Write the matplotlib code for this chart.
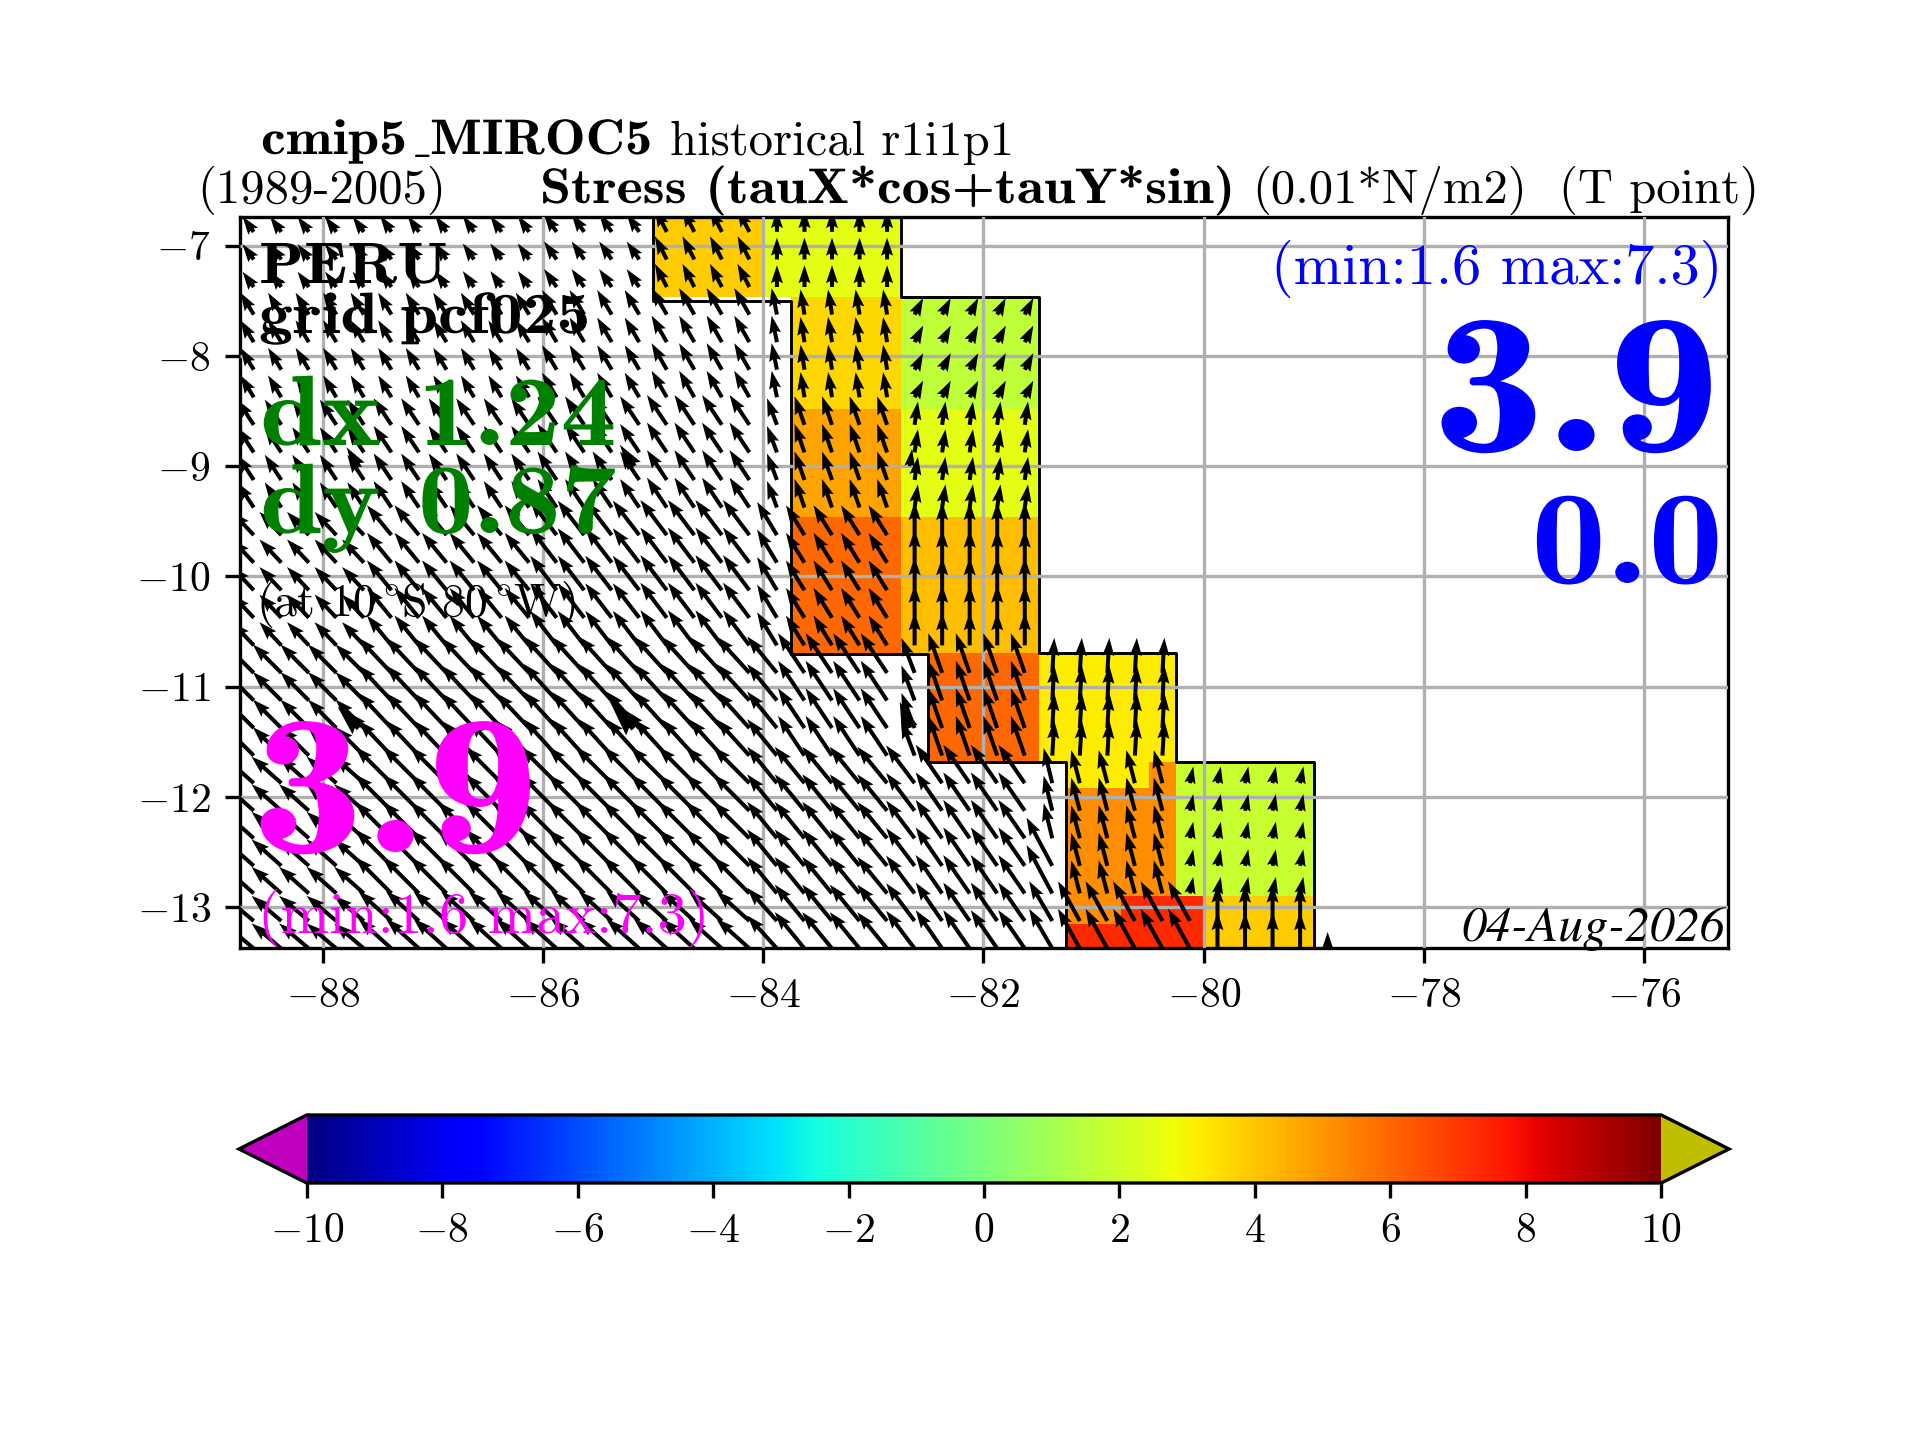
import warnings
import numpy as np
import matplotlib
matplotlib.use("Agg")
import matplotlib.pyplot as plt
from matplotlib.patheffects import AbstractPathEffect
from matplotlib.transforms import Affine2D

warnings.filterwarnings("ignore")
plt.rcParams['mathtext.fontset'] = 'cm'
plt.rcParams['font.family'] = ['cmr10', 'DejaVu Sans']
plt.rcParams['axes.formatter.use_mathtext'] = True
plt.rcParams['axes.unicode_minus'] = True

# colour cells: edges and stress values (0.01 N/m2), nan is no data
cell_lon = [-85, -84, -83.75, -82.75, -82.5, -81.5, -81.25, -80.75, -80.5, -80.25, -80, -79]
cell_lat = [-6.7, -7.47, -8.48, -9.46, -10.69, -11.68, -11.92, -12.90, -13.15, -13.4]
n = np.nan
stress = [
    [3.9, 2.5, 2.5, n, n, n, n, n, n, n, n],
    [n, n, 3.6, 1.6, 1.6, n, n, n, n, n, n],
    [n, n, 4.7, 2.5, 2.5, n, n, n, n, n, n],
    [n, n, 6.0, 4.2, 4.2, n, n, n, n, n, n],
    [n, n, n, n, 6.0, 3.2, 3.2, 3.2, 3.2, n, n],
    [n, n, n, n, n, n, 3.2, 3.2, 5.2, 1.8, 1.8],
    [n, n, n, n, n, n, 5.2, 5.2, 5.2, 1.8, 1.8],
    [n, n, n, n, n, n, 5.2, 7.3, 7.3, 7.3, 3.9],
    [n, n, n, n, n, n, 7.3, 7.3, 7.3, 7.3, 3.9],
]

# arrow field blocks
block_lon = [-89, -87.5, -86, -85, -84, -83.75, -82.75, -82.5, -81.5, -81.25, -80.25, -80, -79, -78.75]
block_lat = [-6.5, -7.47, -8.48, -9.46, -10.69, -11.68, -12.5, -12.9, -13.5]
taux = [
    [-1.7, -1.7, -1.9, -1.8, 0.0, 0.0, n, n, n, n, n, n, n],
    [-2.0, -2.0, -2.2, -2.3, -0.8, -0.6, 1.3, 1.3, n, n, n, n, n],
    [-2.5, -2.7, -2.9, -3.0, -1.5, -1.5, 0.5, 0.5, n, n, n, n, n],
    [-3.3, -3.7, -4.0, -4.0, -3.0, -2.8, 0.0, 0.0, n, n, n, n, n],
    [-4.3, -5.0, -5.0, -5.0, -4.5, -4.0, -2.0, -2.1, 0.3, 0.3, n, n, n],
    [-4.5, -5.5, -5.5, -5.5, -4.5, -4.5, -4.3, -4.0, -1.3, -1.3, 0.5, 0.5, n],
    [-4.5, -5.5, -5.5, -5.5, -4.5, -4.5, -4.3, -4.0, -3.9, -1.3, 0.5, 0.5, n],
    [-4.5, -5.0, -5.0, -5.0, -4.5, -4.5, -4.3, -4.0, -3.5, -3.3, -3.3, 0.0, 0.0],
]
tauy = [
    [2.3, 2.4, 2.7, 3.5, 3.3, 3.3, n, n, n, n, n, n, n],
    [3.3, 3.3, 3.7, 4.0, 4.0, 3.8, 2.5, 2.5, n, n, n, n, n],
    [3.8, 4.0, 4.3, 4.5, 4.0, 4.3, 3.5, 3.5, n, n, n, n, n],
    [3.5, 4.5, 5.2, 5.3, 5.0, 4.5, 5.0, 5.0, n, n, n, n, n],
    [4.3, 5.3, 5.5, 5.5, 5.5, 6.0, 5.3, 6.0, 5.3, 5.3, n, n, n],
    [4.0, 5.5, 5.5, 5.5, 5.5, 5.5, 5.7, 5.8, 5.3, 5.0, 2.5, 2.5, n],
    [4.0, 5.5, 5.5, 5.5, 5.5, 5.5, 5.7, 5.8, 7.3, 5.0, 2.5, 2.5, n],
    [3.8, 4.5, 4.5, 4.5, 5.0, 5.5, 5.7, 5.8, 6.0, 6.0, 6.0, 5.5, 2.5],
]

# the coarser, heavier arrows
big_lon = [-87.67, -85.17, -82.67]
big_lat = [-9.0, -11.375]

coast1_lon = [-85, -85, -83.75, -83.75, -82.5, -82.5, -81.25, -81.25]
coast1_lat = [-6.7, -7.5, -7.5, -10.7, -10.7, -11.68, -11.68, -13.4]
coast2_lon = [-82.75, -82.75, -81.5, -81.5, -80.25, -80.25, -79, -79, -75]
coast2_lat = [-6.7, -7.47, -7.47, -10.69, -10.69, -11.68, -11.68, -13.37, -13.37]

def field(lons, lats):
    i = np.searchsorted(block_lon, lons) - 1
    j = np.searchsorted(-np.array(block_lat), -lats) - 1
    return np.array(taux)[j, i], np.array(tauy)[j, i]

# cmb10 is narrower than the bold of the original, widen it
class Wide(AbstractPathEffect):
    def __init__(self, sx):
        super().__init__()
        self.sx = sx
    def draw_path(self, renderer, gc, tpath, affine, rgbFace=None):
        renderer.draw_path(gc, tpath, Affine2D().scale(self.sx, 1) + affine, rgbFace)

fig = plt.figure(figsize=(6.4, 4.8), dpi=300)
ax = fig.add_axes([240/1920, 1-948/1440, (1728-240)/1920, (948-217)/1440])
cax = fig.add_axes([239/1920, 1-1183/1440, (1729-239)/1920, 68/1440])

cmap = plt.get_cmap('jet').copy()
cmap.set_under((0.75, 0, 0.75))
cmap.set_over((0.75, 0.75, 0))
mesh = ax.pcolormesh(cell_lon, cell_lat, np.ma.masked_invalid(stress), cmap=cmap, vmin=-10, vmax=10, zorder=1)

ax.plot(coast1_lon, coast1_lat, 'k', lw=0.7, zorder=2)
ax.plot(coast2_lon, coast2_lat, 'k', lw=0.7, zorder=2)

lon2d, lat2d = np.meshgrid(np.arange(-88.625, -78.8, 0.25), np.arange(-6.625, -13.5, -0.25))
u, v = field(lon2d, lat2d)
# only the one arrow east of the coast
east = (lon2d > -79) & (lat2d > -13.3)
u[east] = n
v[east] = n
ax.quiver(lon2d, lat2d, u, v, angles='xy', scale_units='xy', scale=1/0.06, width=0.0027,
          headlength=4.5, headaxislength=4, zorder=3)

blon, blat = np.meshgrid(big_lon, big_lat)
bu, bv = field(blon, blat)
ax.quiver(blon, blat, bu, bv, angles='xy', scale_units='xy', scale=1/0.045, width=0.005, zorder=3)

ax.set_xlim(-88.75, -75.24)
ax.set_ylim(-13.37, -6.74)
ax.set_xticks(np.arange(-88, -75, 2))
ax.set_yticks(np.arange(-13, -6, 1))
ax.grid(True, color='#b0b0b0', lw=0.8, zorder=4)
ax.set_axisbelow(False)

cb = fig.colorbar(mesh, cax=cax, orientation='horizontal', extend='both')
cb.set_ticks(np.arange(-10, 11, 2))

def put(px, py, s, wide=None, **kw):
    t = fig.text(px/1920, 1-py/1440, s, va='baseline', zorder=10, **kw)
    if wide:
        t.set_path_effects([Wide(wide)])

put(261, 154, 'cmip5', family='cmb10', fontsize=12, wide=1.12)
put(412, 154, r'$\_$', fontsize=8.5)
put(430, 154, 'MIROC5', family='cmb10', fontsize=12, wide=1.09)
put(670, 155, 'historical r1i1p1', fontsize=11.7)
put(197, 203, '(1989-2005)', fontsize=11.7)
put(540, 203, 'Stress (tauX*cos+tauY*sin)', family='cmb10', fontsize=12, wide=1.117)
put(1252, 203, '(0.01*N/m2)', fontsize=11.7)
put(1759, 203, '(T point)', fontsize=11.7, ha='right')

put(259, 283, 'PERU', family='cmb10', fontsize=14, wide=1.13)
put(259, 333, 'grid pcf025', family='cmb10', fontsize=14, wide=1.16)
put(260, 445, 'dx 1.24', family='cmb10', fontsize=24, color='green', wide=1.117)
put(260, 533, 'dy 0.87', family='cmb10', fontsize=24, color='green', wide=1.117)
put(256, 616, r'(at 10$^\circ\!$S 80$^\circ\!$W)', fontsize=11)
put(251, 852, '3.9', family='cmb10', fontsize=48, color='magenta', wide=1.13)
put(258, 933, '(min:1.6 max:7.3)', fontsize=14, color='magenta')
put(1722, 284, '(min:1.6 max:7.3)', fontsize=14, color='blue', ha='right')
put(1432, 451, '3.9', family='cmb10', fontsize=48, color='blue', wide=1.13)
put(1531, 583, '0.0', family='cmb10', fontsize=32, color='blue', wide=1.13)
put(1725, 941, '04-Aug-2026', family='STIXGeneral', style='italic', fontsize=12, ha='right')

fig.savefig('out.png', dpi=300)
